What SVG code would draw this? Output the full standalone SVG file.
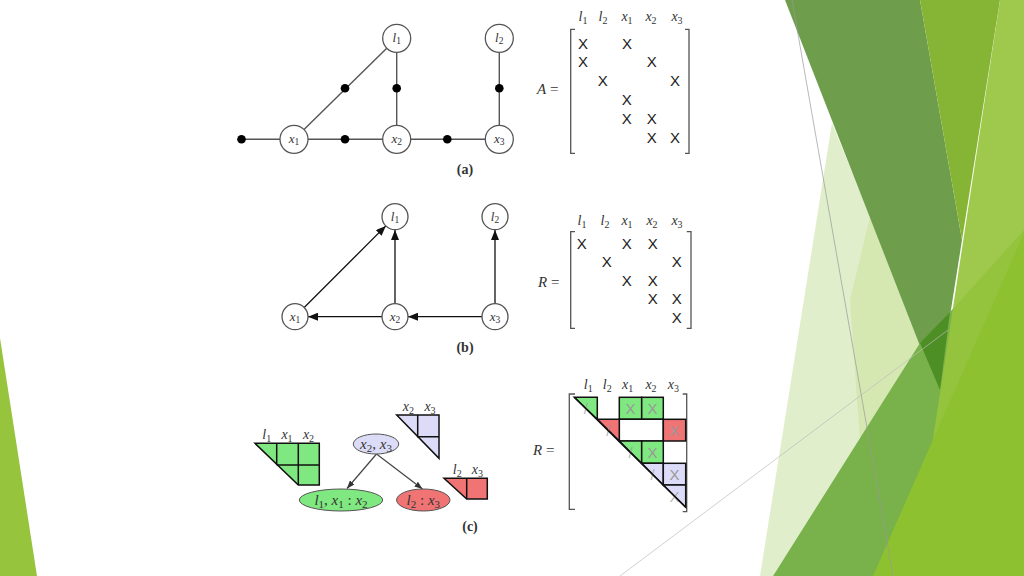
<svg xmlns="http://www.w3.org/2000/svg" width="1024" height="576" viewBox="0 0 1024 576">
<defs>
<style>
.bg{stroke:none}
.edge{stroke:#555;stroke-width:1.4;fill:none}
.node{fill:#fff;stroke:#555;stroke-width:1.3}
.dot{fill:#000}
.lbl{font-family:"Liberation Serif",serif;font-style:italic;font-size:13px;fill:#333;text-anchor:middle}
.hdr{font-family:"Liberation Serif",serif;font-style:italic;font-size:14px;fill:#333;text-anchor:middle}
.el{font-family:"Liberation Serif",serif;font-style:italic;font-size:15px;fill:#333;text-anchor:middle}
.sub{font-style:normal;font-size:9.5px}
.hsub{font-style:normal;font-size:10px}
.esub{font-style:normal;font-size:11px}
.x{font-family:"Liberation Sans",sans-serif;font-size:15px;fill:#222;text-anchor:middle}
.gx{font-family:"Liberation Sans",sans-serif;font-size:15px;fill:#999;text-anchor:middle}
.cap{font-family:"Liberation Serif",serif;font-weight:bold;font-size:14px;fill:#333;text-anchor:middle}
.br{stroke:#555;stroke-width:1.3;fill:none}
.eq{font-family:"Liberation Serif",serif;font-size:15px;fill:#333}
.arr{stroke:#111;stroke-width:1.3;fill:none;marker-end:url(#ah)}
.arr2{stroke:#444;stroke-width:1.2;fill:none;marker-end:url(#ah2)}
.cell{stroke:#111;stroke-width:1.5}
.g{fill:#80e880}
.r{fill:#f07474}
.b{fill:#dcdcf8}
</style>
<marker id="ah" markerWidth="10" markerHeight="8" refX="10" refY="4" orient="auto" markerUnits="userSpaceOnUse"><path d="M0,0 L10,4 L0,8 Z" fill="#111"/></marker>
<marker id="ah2" markerWidth="8" markerHeight="6" refX="8" refY="3" orient="auto" markerUnits="userSpaceOnUse"><path d="M0,0 L8,3 L0,6 Z" fill="#333"/></marker>
</defs>
<rect width="1024" height="576" fill="#fff"/>
<g id="background">
<polygon class="bg" points="0,338 37,576 0,576" fill="#97c43d"/>
<polygon class="bg" points="832,123 870,217 920,343 773,576 760,576" fill="#e0eecb"/>
<polygon class="bg" points="870,217 920,343 860,440 850,300" fill="#d2e6ab" opacity="0.8"/>
<polygon class="bg" points="785,0 920,0 962,240 938,392" fill="#6e9e4c"/>
<polygon class="bg" points="920,0 1000,0 962,240" fill="#86b535"/>
<polygon class="bg" points="773,576 920,343 950,312 1024,230 1024,576" fill="#79b14a"/>
<polygon class="bg" points="920,343 950,312 940,390" fill="#4e8f25"/>
<polygon class="bg" points="1000,0 1024,0 1024,576 912,576" fill="#97c43d" opacity="0.92"/>
<polygon class="bg" points="873,576 1024,233 1024,576" fill="#8ec130"/>
<line x1="792" y1="0" x2="893" y2="576" stroke="#999" stroke-width="0.7"/>
<line x1="620" y1="576" x2="948" y2="330" stroke="#bbb" stroke-width="0.7"/>
</g>

<g id="connectors">
<line class="edge" x1="241" y1="139.3" x2="280" y2="139.3"/>
<line class="edge" x1="308" y1="139.3" x2="383" y2="139.3"/>
<line class="edge" x1="411" y1="139.3" x2="485" y2="139.3"/>
<line class="edge" x1="304" y1="129.5" x2="387" y2="48"/>
<line class="edge" x1="396.7" y1="52.3" x2="396.7" y2="125.3"/>
<line class="edge" x1="499.3" y1="52.3" x2="499.3" y2="125.3"/>
<line class="arr" x1="304.2" y1="307.5" x2="385.8" y2="225.9"/>
<line class="arr" x1="395" y1="303.7" x2="395" y2="230"/>
<line class="arr" x1="495" y1="303.7" x2="495" y2="230"/>
<line class="arr" x1="382" y1="316.7" x2="308" y2="316.7"/>
<line class="arr" x1="482" y1="316.7" x2="408" y2="316.7"/>
<line class="arr2" x1="376.5" y1="454" x2="347" y2="488.5"/>
<line class="arr2" x1="376.5" y1="454" x2="422.5" y2="489"/>
</g>

<g id="factors">
<circle class="dot" cx="241.5" cy="139.3" r="4.3"/>
<circle class="dot" cx="345" cy="139.3" r="4.3"/>
<circle class="dot" cx="447.3" cy="139.3" r="4.3"/>
<circle class="dot" cx="345" cy="88.3" r="4.3"/>
<circle class="dot" cx="396.7" cy="88.3" r="4.3"/>
<circle class="dot" cx="499.3" cy="88.3" r="4.3"/>
</g>

<g id="a-l1"><circle class="node" cx="396.7" cy="38.3" r="14"/><text class="lbl" x="396.7" y="42">l<tspan class="sub" dy="2">1</tspan></text></g>
<g id="a-l2"><circle class="node" cx="499.3" cy="38.3" r="14"/><text class="lbl" x="499.3" y="42">l<tspan class="sub" dy="2">2</tspan></text></g>
<g id="a-x1"><circle class="node" cx="294" cy="139.3" r="14"/><text class="lbl" x="294" y="143">x<tspan class="sub" dy="2">1</tspan></text></g>
<g id="a-x2"><circle class="node" cx="396.7" cy="139.3" r="14"/><text class="lbl" x="396.7" y="143">x<tspan class="sub" dy="2">2</tspan></text></g>
<g id="a-x3"><circle class="node" cx="499.3" cy="139.3" r="14"/><text class="lbl" x="499.3" y="143">x<tspan class="sub" dy="2">3</tspan></text></g>
<text class="cap" x="465" y="174">(a)</text>

<g id="matrixA">
<text class="hdr" x="583" y="21">l<tspan class="hsub" dy="3">1</tspan></text>
<text class="hdr" x="603" y="21">l<tspan class="hsub" dy="3">2</tspan></text>
<text class="hdr" x="627" y="21">x<tspan class="hsub" dy="3">1</tspan></text>
<text class="hdr" x="651" y="21">x<tspan class="hsub" dy="3">2</tspan></text>
<text class="hdr" x="677" y="21">x<tspan class="hsub" dy="3">3</tspan></text>
<text class="eq" x="537" y="94"><tspan font-style="italic">A</tspan> =</text>
<path class="br" d="M575,29.3 H570.7 V153.3 H575"/>
<path class="br" d="M685,29.3 H689 V153.3 H685"/>
<text class="x" x="583" y="48.5">X</text><text class="x" x="627" y="48.5">X</text>
<text class="x" x="583" y="67">X</text><text class="x" x="651.7" y="67">X</text>
<text class="x" x="602.7" y="86">X</text><text class="x" x="675" y="86">X</text>
<text class="x" x="626.7" y="104.5">X</text>
<text class="x" x="626.7" y="123.5">X</text><text class="x" x="651.7" y="123.5">X</text>
<text class="x" x="651.7" y="142.5">X</text><text class="x" x="675" y="142.5">X</text>
</g>

<g id="b-l1"><circle class="node" cx="395" cy="216.7" r="13"/><text class="lbl" x="395" y="220.5">l<tspan class="sub" dy="2">1</tspan></text></g>
<g id="b-l2"><circle class="node" cx="495" cy="216.7" r="13"/><text class="lbl" x="495" y="220.5">l<tspan class="sub" dy="2">2</tspan></text></g>
<g id="b-x1"><circle class="node" cx="295" cy="316.7" r="13"/><text class="lbl" x="295" y="320.5">x<tspan class="sub" dy="2">1</tspan></text></g>
<g id="b-x2"><circle class="node" cx="395" cy="316.7" r="13"/><text class="lbl" x="395" y="320.5">x<tspan class="sub" dy="2">2</tspan></text></g>
<g id="b-x3"><circle class="node" cx="495" cy="316.7" r="13"/><text class="lbl" x="495" y="320.5">x<tspan class="sub" dy="2">3</tspan></text></g>
<text class="cap" x="465" y="352">(b)</text>

<g id="matrixR">
<text class="hdr" x="582" y="225">l<tspan class="hsub" dy="3">1</tspan></text>
<text class="hdr" x="605" y="225">l<tspan class="hsub" dy="3">2</tspan></text>
<text class="hdr" x="627" y="225">x<tspan class="hsub" dy="3">1</tspan></text>
<text class="hdr" x="652" y="225">x<tspan class="hsub" dy="3">2</tspan></text>
<text class="hdr" x="677" y="225">x<tspan class="hsub" dy="3">3</tspan></text>
<text class="eq" x="538" y="287"><tspan font-style="italic">R</tspan> =</text>
<path class="br" d="M575,231.7 H570.7 V328.3 H575"/>
<path class="br" d="M686.7,231.7 H691 V328.3 H686.7"/>
<text class="x" x="581.7" y="248.5">X</text><text class="x" x="626.7" y="248.5">X</text><text class="x" x="652.7" y="248.5">X</text>
<text class="x" x="606.7" y="267">X</text><text class="x" x="676.7" y="267">X</text>
<text class="x" x="626.7" y="285.5">X</text><text class="x" x="652.7" y="285.5">X</text>
<text class="x" x="652.7" y="303.5">X</text><text class="x" x="676.7" y="303.5">X</text>
<text class="x" x="676.7" y="322.5">X</text>
</g>

<g id="c-green-block">
<text class="hdr" x="266.7" y="439">l<tspan class="hsub" dy="3">1</tspan></text>
<text class="hdr" x="287" y="439">x<tspan class="hsub" dy="3">1</tspan></text>
<text class="hdr" x="308.5" y="439">x<tspan class="hsub" dy="3">2</tspan></text>
<polygon class="g cell" points="255,443.3 319.3,443.3 319.3,485 298.3,485"/>
<path class="cell" fill="none" d="M276.7,443.3 V465 M298.3,443.3 V485 M276.7,465 H319.3"/>
</g>
<g id="c-blue-block">
<text class="hdr" x="408.3" y="411">x<tspan class="hsub" dy="3">2</tspan></text>
<text class="hdr" x="430" y="411">x<tspan class="hsub" dy="3">3</tspan></text>
<polygon class="b cell" points="396.7,415 439,415 439,458.3"/>
<path class="cell" fill="none" d="M417.7,415 V436.7 H439"/>
</g>
<g id="c-red-block">
<text class="hdr" x="457.3" y="474">l<tspan class="hsub" dy="3">2</tspan></text>
<text class="hdr" x="477.3" y="474">x<tspan class="hsub" dy="3">3</tspan></text>
<polygon class="r cell" points="444,478.3 487.3,478.3 487.3,499 466.7,499"/>
<path class="cell" fill="none" d="M466.7,478.3 V499"/>
</g>
<g id="c-root"><ellipse cx="376" cy="444" rx="22.7" ry="10" fill="#dcdcf8" stroke="#555" stroke-width="1"/><text class="el" x="376" y="448.5">x<tspan class="esub" dy="3">2</tspan><tspan dy="-3" font-style="normal">, </tspan>x<tspan class="esub" dy="3">3</tspan></text></g>
<g id="c-left"><ellipse cx="341" cy="500" rx="41.7" ry="11" fill="#80e880" stroke="#555" stroke-width="1"/><text class="el" x="341" y="505" font-size="16">l<tspan class="esub" dy="3">1</tspan><tspan dy="-3" font-style="normal">, </tspan>x<tspan class="esub" dy="3">1</tspan><tspan dy="-3" font-style="normal"> : </tspan>x<tspan class="esub" dy="3">2</tspan></text></g>
<g id="c-right"><ellipse cx="423.3" cy="500" rx="26.7" ry="11" fill="#f07474" stroke="#555" stroke-width="1"/><text class="el" x="423.3" y="505" font-size="16">l<tspan class="esub" dy="3">2</tspan><tspan dy="-3" font-style="normal"> : </tspan>x<tspan class="esub" dy="3">3</tspan></text></g>
<text class="cap" x="470" y="531">(c)</text>

<g id="matrixRc">
<text class="hdr" x="588.3" y="389">l<tspan class="hsub" dy="3">1</tspan></text>
<text class="hdr" x="607.3" y="389">l<tspan class="hsub" dy="3">2</tspan></text>
<text class="hdr" x="627.7" y="389">x<tspan class="hsub" dy="3">1</tspan></text>
<text class="hdr" x="651" y="389">x<tspan class="hsub" dy="3">2</tspan></text>
<text class="hdr" x="673.3" y="389">x<tspan class="hsub" dy="3">3</tspan></text>
<text class="eq" x="533" y="455"><tspan font-style="italic">R</tspan> =</text>
<path class="br" d="M575,394 H569.3 V509.3 H575"/>
<path class="br" d="M682.7,394 H686.7 V511.7 H682.7"/>
<polygon class="g cell" points="574.3,397.3 597.3,397.3 597.3,419.3"/>
<rect class="g cell" x="619.3" y="397.3" width="22.4" height="22"/>
<rect class="g cell" x="641.7" y="397.3" width="21.6" height="22"/>
<polygon class="cell" fill="#fff" points="619.3,419.3 663.3,419.3 663.3,441 619.3,441"/>
<rect class="r cell" x="663.3" y="419.3" width="22.4" height="21.7"/>
<polygon class="r cell" points="597.3,419.3 619.3,419.3 619.3,441"/>
<polygon class="g cell" points="619.3,441 641.7,441 641.7,463.3"/>
<rect class="g cell" x="641.7" y="441" width="21.6" height="22.3"/>
<polygon class="b cell" points="641.7,463.3 663.3,463.3 663.3,485"/>
<rect class="b cell" x="663.3" y="463.3" width="22.4" height="21.7"/>
<polygon class="b cell" points="663.3,485 685.7,485 685.7,507.3"/>
<text class="gx" x="630.5" y="413.5">X</text>
<text class="gx" x="652.5" y="413.5">X</text>
<text class="gx" x="674.5" y="435.5">X</text>
<text class="gx" x="652.5" y="457.5">X</text>
<text class="gx" x="674.5" y="479.5">X</text>
<text class="gx" x="585.8" y="413.5" opacity="0.7">/</text>
<text class="gx" x="608.3" y="435.5" opacity="0.7">/</text>
<text class="gx" x="630.5" y="457.5" opacity="0.7">/</text>
<text class="gx" x="652.5" y="479.5" opacity="0.7">/</text>
<text class="gx" x="674.5" y="501.5" opacity="0.7">X</text>
<line x1="574.3" y1="397.3" x2="685.7" y2="507.3" stroke="#111" stroke-width="1.5"/>
</g>
</svg>
